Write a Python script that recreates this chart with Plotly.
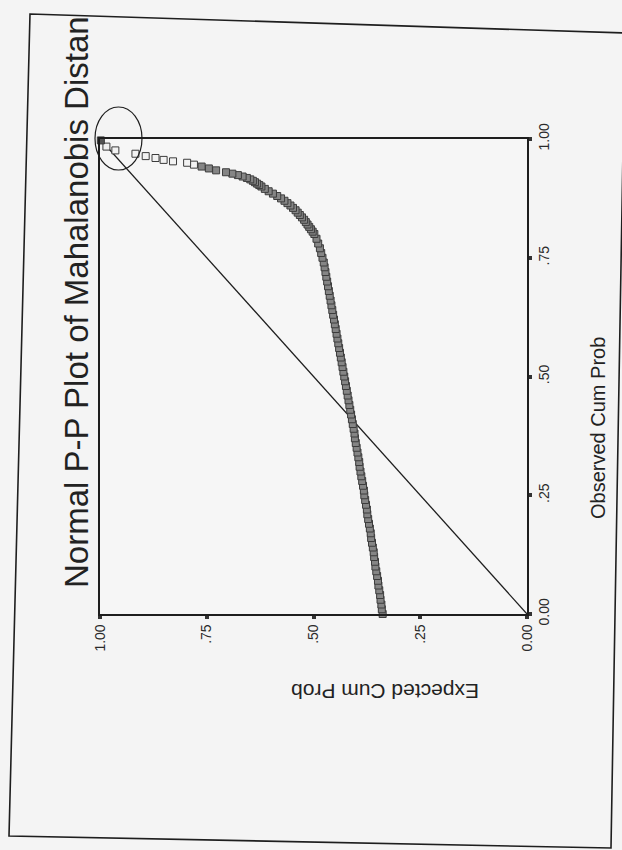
import plotly.graph_objects as go

# Observed cumulative probability (vertical axis in the rotated scan)
observed = [
    0.00, 0.01, 0.02, 0.03, 0.04, 0.05, 0.06, 0.07, 0.08, 0.09, 0.10,
    0.11, 0.12, 0.13, 0.14, 0.15, 0.16, 0.17, 0.18, 0.19, 0.20,
    0.21, 0.22, 0.23, 0.24, 0.25, 0.26, 0.27, 0.28, 0.29, 0.30,
    0.31, 0.32, 0.33, 0.34, 0.35, 0.36, 0.37, 0.38, 0.39, 0.40,
    0.41, 0.42, 0.43, 0.44, 0.45, 0.46, 0.47, 0.48, 0.49, 0.50,
    0.51, 0.52, 0.53, 0.54, 0.55, 0.56, 0.57, 0.58, 0.59, 0.60,
    0.61, 0.62, 0.63, 0.64, 0.65, 0.66, 0.67, 0.68, 0.69, 0.70,
    0.71, 0.72, 0.73, 0.74, 0.75, 0.76, 0.77, 0.78, 0.79, 0.80,
    0.805, 0.81, 0.815, 0.82, 0.825, 0.83, 0.835, 0.84, 0.845, 0.85,
    0.855, 0.86, 0.865, 0.87, 0.875, 0.88, 0.885, 0.89, 0.895, 0.90,
    0.903, 0.906, 0.909, 0.912, 0.915, 0.918, 0.921, 0.924, 0.927, 0.93,
    0.934, 0.938, 0.942, 0.946, 0.950, 0.953, 0.956, 0.960, 0.964,
    0.969, 0.976, 0.984, 0.997,
]

# Expected cumulative probability (horizontal axis, reversed, in the rotated scan)
expected = [
    0.338, 0.340, 0.341, 0.343, 0.344, 0.346, 0.348, 0.349, 0.351, 0.353, 0.355,
    0.356, 0.358, 0.359, 0.361, 0.363, 0.365, 0.366, 0.368, 0.370, 0.372,
    0.374, 0.375, 0.377, 0.379, 0.381, 0.382, 0.384, 0.386, 0.388, 0.390,
    0.392, 0.393, 0.395, 0.397, 0.399, 0.401, 0.403, 0.404, 0.406, 0.408,
    0.410, 0.412, 0.414, 0.416, 0.418, 0.420, 0.422, 0.424, 0.426, 0.428,
    0.430, 0.432, 0.434, 0.436, 0.438, 0.440, 0.442, 0.444, 0.446, 0.448,
    0.450, 0.452, 0.454, 0.456, 0.458, 0.460, 0.462, 0.464, 0.466, 0.468,
    0.470, 0.472, 0.474, 0.476, 0.479, 0.482, 0.485, 0.489, 0.493, 0.498,
    0.502, 0.506, 0.510, 0.514, 0.518, 0.522, 0.527, 0.532, 0.537, 0.542,
    0.548, 0.554, 0.561, 0.568, 0.576, 0.585, 0.595, 0.605, 0.614, 0.622,
    0.627, 0.632, 0.637, 0.642, 0.648, 0.656, 0.666, 0.677, 0.690, 0.705,
    0.728, 0.745, 0.762, 0.780, 0.796, 0.829, 0.851, 0.870, 0.893,
    0.917, 0.964, 0.985, 0.998,
]

diag = [0.0, 1.0]

exp_ticks = [1.0, 0.75, 0.5, 0.25, 0.0]
exp_ticktext = ["1.00", ".75", ".50", ".25", "0.00"]
obs_ticks = [0.0, 0.25, 0.5, 0.75, 1.0]
obs_ticktext = ["0.00", ".25", ".50", ".75", "1.00"]

title_text = "Normal P-P Plot of Mahalanobis Distan"
x_title = "Expected Cum Prob"
y_title = "Observed Cum Prob"

W, H = 622, 850
L, R, T, B = 100, 527, 139, 614  # plot area in pixels


def px(xp):
    return (xp - L) / (R - L)


def py(yp):
    return (B - yp) / (B - T)


FONT = "Liberation Sans, Arial, sans-serif"
INK = "#1e1e1e"

fill_colors = []
for e in expected:
    if e >= 0.99:
        fill_colors.append("#555555")
    elif e >= 0.78:
        fill_colors.append("#f2f2f2")
    else:
        fill_colors.append("#858585")

fig = go.Figure()
fig.add_trace(go.Scatter(
    x=diag, y=diag, mode="lines",
    line=dict(color=INK, width=1.3), hoverinfo="skip", showlegend=False,
))
fig.add_trace(go.Scatter(
    x=expected, y=observed, mode="markers",
    marker=dict(symbol="square", size=7, color=fill_colors,
                line=dict(color="#3c3c3c", width=1)),
    cliponaxis=False, showlegend=False,
))

axis_common = dict(
    showline=True, mirror=True, linecolor=INK, linewidth=1.5,
    ticks="outside", ticklen=3, tickwidth=4, tickcolor="#333333",
    showgrid=False, zeroline=False, tickangle=-90,
    tickfont=dict(family=FONT, size=14, color="#2a2a2a"),
)

fig.update_layout(
    width=W, height=H,
    margin=dict(l=L, r=W - R, t=T, b=H - B, pad=0),
    paper_bgcolor="#f4f4f4", plot_bgcolor="#f6f6f6",
    xaxis=dict(range=[1.0, 0.0], tickvals=exp_ticks, ticktext=exp_ticktext,
               **axis_common),
    yaxis=dict(range=[0.0, 1.0], side="right", tickvals=obs_ticks,
               ticktext=obs_ticktext, **axis_common),
    annotations=[
        dict(text=title_text, textangle=-90, xref="paper", yref="paper",
             x=px(76), y=py(590), xanchor="center", yanchor="bottom",
             showarrow=False, font=dict(family=FONT, size=33, color="#222222")),
        dict(text=y_title, textangle=-90, xref="paper", yref="paper",
             x=px(598), y=py(428), xanchor="center", yanchor="middle",
             showarrow=False, font=dict(family=FONT, size=20, color="#222222")),
        dict(text=x_title, textangle=180, xref="paper", yref="paper",
             x=px(385), y=py(692), xanchor="center", yanchor="middle",
             showarrow=False, font=dict(family=FONT, size=21, color="#222222")),
    ],
    shapes=[
        dict(type="circle", xref="paper", yref="paper",
             x0=px(95), x1=px(142), y0=py(170), y1=py(107),
             line=dict(color=INK, width=1.2)),
        dict(type="path", xref="paper", yref="paper",
             path=(f"M {px(30)},{py(14)} L {px(625)},{py(33)} "
                   f"L {px(611)},{py(848)} L {px(9)},{py(836)} Z"),
             line=dict(color=INK, width=1.6)),
    ],
)

fig.write_html("out.html")
